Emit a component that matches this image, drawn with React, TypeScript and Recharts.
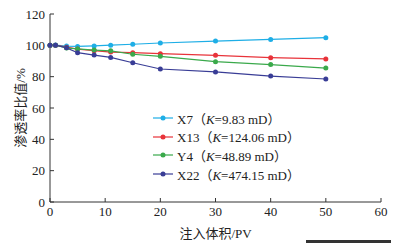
import { CartesianGrid, Label, Line, LineChart, XAxis, YAxis } from "recharts";

const pv = [0, 1, 3, 5, 8, 11, 15, 20, 30, 40, 50];
const x7 = [100, 100.2, 99.5, 99.3, 99.6, 100.1, 100.7, 101.5, 102.7, 103.8, 104.9];
const x13 = [100, 100.1, 98.8, 97.6, 96.6, 95.7, 95.3, 94.7, 93.6, 92.1, 91.3];
const y4 = [100, 100.1, 98.3, 97.7, 97.0, 96.5, 94.3, 93.0, 89.6, 87.7, 85.5];
const x22 = [100, 100.1, 98.4, 95.3, 93.8, 92.3, 88.9, 84.9, 83.0, 80.4, 78.5];

const xTicks = [0, 10, 20, 30, 40, 50, 60];
const yTicks = [0, 20, 40, 60, 80, 100, 120];

const series = [
	{ key: "x7", name: "X7", k: "9.83", color: "#1eaee6" },
	{ key: "x13", name: "X13", k: "124.06", color: "#e8333a" },
	{ key: "y4", name: "Y4", k: "48.89", color: "#3aa94b" },
	{ key: "x22", name: "X22", k: "474.15", color: "#393d96" },
];

const data = pv.map((v, i) => ({ pv: v, x7: x7[i], x13: x13[i], y4: y4[i], x22: x22[i] }));

const font = "'Liberation Serif', 'Noto Sans CJK SC', serif";
const axisColor = "#333";
const tickStyle = { fontSize: 13, fill: "#222", fontFamily: font };

function Legendbox() {
	return (
		<div style={{ position: "absolute", left: 153, top: 109, fontFamily: font, fontSize: 13, color: "#222" }}>
			{series.map((s) => (
				<div key={s.key} style={{ display: "flex", alignItems: "center", height: 18.6 }}>
					<svg width={22} height={10} style={{ marginRight: 2 }}>
						<line x1={0} y1={5} x2={20} y2={5} stroke={s.color} strokeWidth={1.2} />
						<circle cx={10} cy={5} r={2.5} fill={s.color} />
					</svg>
					<span style={{ whiteSpace: "nowrap" }}>
						{s.name}（<i>K</i>={s.k} mD）
					</span>
				</div>
			))}
		</div>
	);
}

export default function App() {
	return (
		<div style={{ position: "absolute", left: 0, top: 0, width: 399, height: 247, background: "#fff" }}>
			<LineChart width={399} height={247} data={data} margin={{ top: 14, right: 18, bottom: 20, left: 0 }}>
				<CartesianGrid stroke="none" />
				<XAxis
					dataKey="pv"
					type="number"
					domain={[0, 60]}
					ticks={xTicks}
					height={25}
					stroke={axisColor}
					tick={tickStyle}
					tickSize={-4}
					tickMargin={9}
				>
					<Label value="注入体积/PV" position="bottom" offset={2} style={{ fontSize: 13, fill: "#222", fontFamily: font }} />
				</XAxis>
				<YAxis
					domain={[0, 120]}
					ticks={yTicks}
					width={50}
					stroke={axisColor}
					tick={tickStyle}
					tickSize={-4}
					tickMargin={9}
				>
					<Label
						content={() => (
							<text
								x={20}
								y={108}
								transform="rotate(-90 20 108)"
								textAnchor="middle"
								dominantBaseline="central"
								style={{ fontSize: 13, fill: "#222", fontFamily: font }}
							>
								渗透率比值/%
							</text>
						)}
					/>
				</YAxis>
				{series.map((s) => (
					<Line
						key={s.key}
						dataKey={s.key}
						type="linear"
						stroke={s.color}
						strokeWidth={1.2}
						dot={{ r: 2.5, fill: s.color, stroke: "none" }}
						isAnimationActive={false}
					/>
				))}
			</LineChart>
			<Legendbox />
			<div style={{ position: "absolute", left: 306, top: 240, width: 85, height: 3, background: "#333" }} />
		</div>
	);
}
